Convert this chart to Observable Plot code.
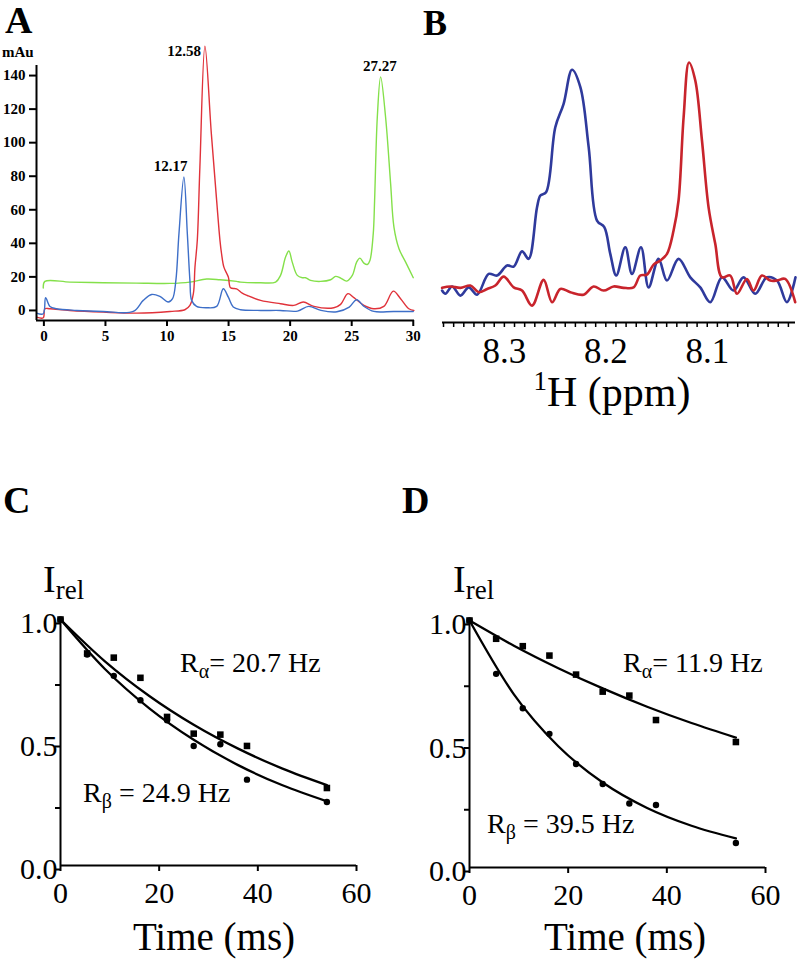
<!DOCTYPE html>
<html><head><meta charset="utf-8">
<script src="https://cdn.jsdelivr.net/npm/d3@7"></script>
<script src="https://cdn.jsdelivr.net/npm/@observablehq/plot@0.6"></script>
<style>
body{margin:0;background:#fff;color:#000}
#wrap{position:relative;width:800px;height:962px;overflow:hidden;background:#fff}
#wrap svg{position:absolute}
</style></head><body><div id="wrap"></div>
<script>
const SERIF = '"Liberation Serif","Times New Roman",serif';

// ---------- Panel A: HPLC chromatograms (time min, mAu) ----------
const hplcTimeDomain = [-0.6, 30.1];
const hplcMAuDomain = [-6, 146];
const hplcTimeTicks = [0, 5, 10, 15, 20, 25, 30];
const hplcMAuTicks = [0, 20, 40, 60, 80, 100, 120, 140];
const hplcBlue = [[-0.59,-1.6],[-0.05,-2.0],[0.14,7.6],[0.49,2.4],[1.03,1.0],[2.66,0],[4.82,-0.6],[7.26,-0.6],[8.07,6.0],[8.75,9.5],[9.42,8.4],[10.10,5.0],[10.45,7.0],[10.72,17.9],[10.97,45.8],[11.37,79.5],[11.65,45.8],[11.86,17.9],[12.0,6.0],[12.40,2.4],[13.22,1.6],[14.03,2.4],[14.57,12.9],[14.98,7.9],[15.38,2.0],[15.97,0.4],[17.6,0],[19.2,0],[20.6,-0.4],[21.5,2.4],[22.5,0],[23.8,-0.8],[24.8,2.0],[25.4,6.4],[26.0,2.4],[26.8,-0.6],[28.4,-0.6],[30.0,-0.6]];
const hplcRed = [[-0.59,-4.0],[-0.05,-4.4],[0.08,1.0],[0.49,1.0],[2.11,0],[4.82,-1.0],[7.53,-1.6],[10.24,-0.6],[11.45,0.4],[11.86,3.0],[12.14,10.0],[12.27,25.8],[12.46,41.8],[12.67,85.5],[13.08,157.5],[13.60,105.4],[14.03,65.6],[14.30,41.8],[14.43,33.8],[14.62,25.8],[14.98,19.9],[15.16,13.5],[15.65,12.9],[16.11,10.3],[16.52,8.9],[17.6,6.0],[19.22,4.0],[20.30,3.0],[21.07,5.0],[21.93,2.4],[23.55,1.6],[24.1,3.6],[24.69,10.0],[25.18,7.6],[25.99,3.0],[26.80,1.0],[27.61,2.4],[28.38,11.5],[28.97,7.0],[29.64,1.0],[30.05,0]];
const hplcGreen = [[-0.05,13.4],[0.08,17.3],[2.11,16.9],[4.82,16.5],[7.53,16.3],[10.24,16.1],[11.86,16.9],[13.22,18.7],[14.30,18.3],[15.65,17.3],[15.98,16.9],[17.6,16.5],[18.82,16.9],[19.22,20.9],[19.63,31.8],[19.90,35.4],[20.17,28.8],[20.58,20.9],[20.99,19.5],[21.25,19.5],[21.66,17.9],[22.47,17.3],[23.29,18.3],[23.69,20.3],[24.10,19.3],[24.59,17.5],[25.05,20.9],[25.40,28.8],[25.67,31.2],[25.99,28.2],[26.27,27.4],[26.48,29.8],[26.75,45.8],[26.86,65.6],[27.08,115.3],[27.35,139.2],[27.75,115.3],[28.16,75.6],[28.43,49.7],[28.84,36.8],[29.38,28.8],[30.0,19.5]];
const hplcPeakLabels = ["12.17", "12.58", "27.27"];
const hplcPeakLabelTime = [10.29, 11.39, 27.29];
const hplcPeakLabelMAu = [85.9, 154.5, 145.6];

// ---------- Panel B: 1H NMR (ppm, relative intensity) ----------
const nmrPpmDomain = [8.361, 8.013];
const nmrIntensityDomain = [-14, 100];
const nmrMajorTicks = [8.3, 8.2, 8.1];
const nmrTickLabels = ["8.3", "8.2", "8.1"];
const nmrBlue = [[8.3614,0],[8.3581,-1.4],[8.3515,1.8],[8.3433,-2.2],[8.3352,1.4],[8.3269,-1.8],[8.3155,7.3],[8.3072,6.6],[8.2973,11.0],[8.2908,10.5],[8.2826,17.2],[8.2761,13.9],[8.2678,36.5],[8.2645,41.7],[8.2589,43.1],[8.2498,71.6],[8.2416,81.9],[8.2333,96.8],[8.2251,89.2],[8.2169,62.9],[8.2087,30.7],[8.2015,27.8],[8.1956,16.1],[8.1897,6.6],[8.1808,19.0],[8.1742,7.3],[8.1653,19.0],[8.1578,1.4],[8.1480,13.9],[8.1397,4.4],[8.1283,13.9],[8.1167,5.8],[8.1069,1.4],[8.0970,-5.1],[8.0855,5.8],[8.0741,0],[8.0642,5.8],[8.0527,-1.4],[8.0412,5.8],[8.0313,4.4],[8.0215,-5.1],[8.0130,5.8]];
const nmrRed = [[8.3614,1.2],[8.3532,1.8],[8.3433,1.2],[8.3335,2.2],[8.3253,-0.7],[8.3170,0.7],[8.3089,2.2],[8.3007,6.1],[8.2908,1.4],[8.2826,0],[8.2727,-6.6],[8.2613,4.7],[8.2530,-5.1],[8.2448,0.7],[8.2350,-0.7],[8.2219,-1.8],[8.2120,1.8],[8.2022,0],[8.1923,1.8],[8.1825,1.2],[8.1726,1.4],[8.1660,6.6],[8.1594,7.0],[8.1529,11.4],[8.1463,13.2],[8.1397,16.1],[8.1332,26.3],[8.1283,39.5],[8.1233,76.0],[8.1180,100.0],[8.1118,92.1],[8.1052,65.8],[8.0987,36.5],[8.0921,20.5],[8.0855,5.8],[8.0773,6.6],[8.0707,-1.4],[8.0609,5.1],[8.0544,0],[8.0461,6.6],[8.0379,4.4],[8.0313,4.4],[8.0232,5.1],[8.0133,-5.1]];

// ---------- Panels C & D: relaxation decays ----------
const relaxTimeDomain = [0, 60];
const relaxIntensityDomain = [0, 1];
const relaxTimeTicks = [0, 20, 40, 60];
const relaxIntensityTicks = [0, 0.25, 0.5, 0.75, 1];
const relaxIntensityTickLabels = ["0.0", "", "0.5", "", "1.0"];
const relaxTimes = [0, 5.4, 10.8, 16.2, 21.6, 27, 32.4, 37.8, 54];
const cAlpha = [1.0, 0.862, 0.845, 0.763, 0.604, 0.536, 0.532, 0.486, 0.315];
const cBeta  = [1.0, 0.858, 0.771, 0.672, 0.590, 0.486, 0.493, 0.349, 0.258];
const dAlpha = [1.0, 0.926, 0.896, 0.858, 0.781, 0.712, 0.696, 0.597, 0.508];
const dBeta  = [1.0, 0.784, 0.645, 0.541, 0.419, 0.338, 0.259, 0.253, 0.099];
const fitTimes = [0, 9, 18, 27, 36, 45, 54];
const cFitAlpha = [1, 0.830, 0.689, 0.572, 0.475, 0.394, 0.327];
const cFitBeta  = [1, 0.799, 0.639, 0.511, 0.408, 0.326, 0.261];
const dFitAlpha = [1, 0.898, 0.807, 0.725, 0.651, 0.585, 0.526];
const dFitBeta  = [1, 0.701, 0.491, 0.344, 0.241, 0.169, 0.118];

// ---------- text annotations ----------
const panelLetters = ["A", "B", "C", "D"];
const rateLabels = [
  {panel: "C", sub: "α", pre: "R", post: "= 20.7 Hz"},
  {panel: "C", sub: "β", pre: "R", post: " = 24.9 Hz"},
  {panel: "D", sub: "α", pre: "R", post: "= 11.9 Hz"},
  {panel: "D", sub: "β", pre: "R", post: " = 39.5 Hz"}
];

const wrap = document.getElementById("wrap");
function place(el, left, top) { el.style.left = left + "px"; el.style.top = top + "px"; wrap.appendChild(el); }
const pairs = arr => arr.map(([x, y]) => ({x, y}));

// Panel A
const chartA = Plot.plot({
  width: 425, height: 345, marginLeft: 36, marginRight: 11, marginTop: 65, marginBottom: 25,
  x: {domain: hplcTimeDomain}, y: {domain: hplcMAuDomain},
  style: {fontFamily: SERIF, fontSize: "15px", fontWeight: "bold", background: "transparent", overflow: "visible"},
  marks: [
    Plot.line(pairs(hplcGreen), {x: "x", y: "y", stroke: "#84e04a", strokeWidth: 1.4, curve: "catmull-rom"}),
    Plot.line(pairs(hplcRed), {x: "x", y: "y", stroke: "#e0323a", strokeWidth: 1.4, curve: "catmull-rom"}),
    Plot.line(pairs(hplcBlue), {x: "x", y: "y", stroke: "#3e6fc8", strokeWidth: 1.4, curve: "catmull-rom"}),
    Plot.ruleY([hplcMAuDomain[0]], {strokeWidth: 2}),
    Plot.ruleX([hplcTimeDomain[0]], {strokeWidth: 2}),
    Plot.axisX({ticks: hplcTimeTicks, tickSize: 6, tickPadding: 4, strokeWidth: 2, label: null}),
    Plot.axisY({ticks: hplcMAuTicks, tickSize: 7, tickPadding: 4, strokeWidth: 2, label: null}),
    Plot.text(hplcPeakLabels, {x: (d, i) => hplcPeakLabelTime[i], y: (d, i) => hplcPeakLabelMAu[i], text: d => d, fontWeight: "bold", fontSize: 15})
  ]
});
place(chartA, 0, 0);

// Panel B
const nmrMinorTicks = d3.ticks(nmrPpmDomain[1], nmrPpmDomain[0], 40);
const chartB = Plot.plot({
  width: 375, height: 380, marginLeft: 17, marginRight: 5, marginTop: 62, marginBottom: 58,
  x: {domain: nmrPpmDomain}, y: {domain: nmrIntensityDomain, axis: null},
  style: {fontFamily: SERIF, fontSize: "35px", background: "transparent", overflow: "visible"},
  marks: [
    Plot.line(pairs(nmrBlue), {x: "x", y: "y", stroke: "#2f3a9c", strokeWidth: 2.6, curve: "catmull-rom"}),
    Plot.line(pairs(nmrRed), {x: "x", y: "y", stroke: "#c8242c", strokeWidth: 2.6, curve: "catmull-rom"}),
    Plot.ruleY([nmrIntensityDomain[0]], {strokeWidth: 2}),
    Plot.axisX({ticks: nmrMinorTicks, tickSize: 5, tickPadding: 11, strokeWidth: 1.5, label: null,
      tickFormat: d => { const k = nmrMajorTicks.findIndex(m => Math.abs(m - d) < 1e-6); return k >= 0 ? nmrTickLabels[k] : ""; }})
  ]
});
place(chartB, 425, 0);

// Panels C and D
function relaxPlot(sq, ci, fa, fb, m) {
  const squares = relaxTimes.map((t, i) => ({x: t, y: sq[i]}));
  const circles = relaxTimes.map((t, i) => ({x: t, y: ci[i]}));
  const fitA = fitTimes.map((t, i) => ({x: t, y: fa[i]}));
  const fitB = fitTimes.map((t, i) => ({x: t, y: fb[i]}));
  return Plot.plot({
    width: 400, height: 402, marginLeft: m[0], marginRight: m[1], marginTop: m[2], marginBottom: m[3],
    x: {domain: relaxTimeDomain}, y: {domain: relaxIntensityDomain},
    style: {fontFamily: SERIF, fontSize: "30px", background: "transparent", overflow: "visible"},
    marks: [
      Plot.ruleY([relaxIntensityDomain[0]], {strokeWidth: 2}),
      Plot.ruleX([relaxTimeDomain[0]], {strokeWidth: 2}),
      Plot.axisX({ticks: relaxTimeTicks, tickSize: 6, tickPadding: 10, strokeWidth: 2, label: null}),
      Plot.axisY({ticks: relaxIntensityTicks, tickSize: 5, tickPadding: -2, strokeWidth: 2, label: null, dy: 4,
        tickFormat: d => relaxIntensityTickLabels[relaxIntensityTicks.indexOf(d)]}),
      Plot.line(fitA, {x: "x", y: "y", stroke: "#000", strokeWidth: 2.3, curve: "monotone-x"}),
      Plot.line(fitB, {x: "x", y: "y", stroke: "#000", strokeWidth: 2.3, curve: "monotone-x"}),
      Plot.dot(squares, {x: "x", y: "y", symbol: "square", r: 3.7, fill: "#000"}),
      Plot.dot(circles, {x: "x", y: "y", r: 3.2, fill: "#000"})
    ]
  });
}
place(relaxPlot(cAlpha, cBeta, cFitAlpha, cFitBeta, [60, 44, 59, 97]), 0, 560);
place(relaxPlot(dAlpha, dBeta, dFitAlpha, dFitBeta, [69, 35, 60, 95]), 400, 560);

// Overlay text
const ov = d3.select(wrap).append("svg").attr("width", 800).attr("height", 962)
  .style("left", "0px").style("top", "0px").style("pointer-events", "none")
  .attr("font-family", SERIF).attr("fill", "#000");

const letterPos = [[5, 33, 38], [423, 35, 36], [3, 513, 38], [402, 513, 38]];
panelLetters.forEach((L, i) => {
  const [x, y, s] = letterPos[i];
  ov.append("text").attr("x", x).attr("y", y).attr("font-weight", "bold").attr("font-size", s).text(L);
});
ov.append("text").attr("x", 2).attr("y", 57).attr("font-weight", "bold").attr("font-size", 15).text("mAu");

const h = ov.append("text").attr("x", 612).attr("y", 406).attr("font-size", 42).attr("text-anchor", "middle");
h.append("tspan").attr("font-size", 27).attr("dy", -16).text("1");
h.append("tspan").attr("dy", 16).text("H (ppm)");

[[43, 592], [453, 592]].forEach(([x, y]) => {
  const t = ov.append("text").attr("x", x).attr("y", y).attr("font-size", 38);
  t.append("tspan").text("I");
  t.append("tspan").attr("font-size", 27).attr("dy", 7).text("rel");
});
[[214, 950], [625, 950]].forEach(([x, y]) => {
  ov.append("text").attr("x", x).attr("y", y).attr("font-size", 39).attr("text-anchor", "middle").text("Time (ms)");
});
const ratePos = [[180, 672], [83, 802], [623, 672], [487, 833]];
rateLabels.forEach((r, i) => {
  const [x, y] = ratePos[i];
  const t = ov.append("text").attr("x", x).attr("y", y).attr("font-size", 28);
  t.append("tspan").text(r.pre);
  t.append("tspan").attr("font-size", 20).attr("dy", 6).text(r.sub);
  t.append("tspan").attr("dy", -6).text(r.post);
});
</script></body></html>
